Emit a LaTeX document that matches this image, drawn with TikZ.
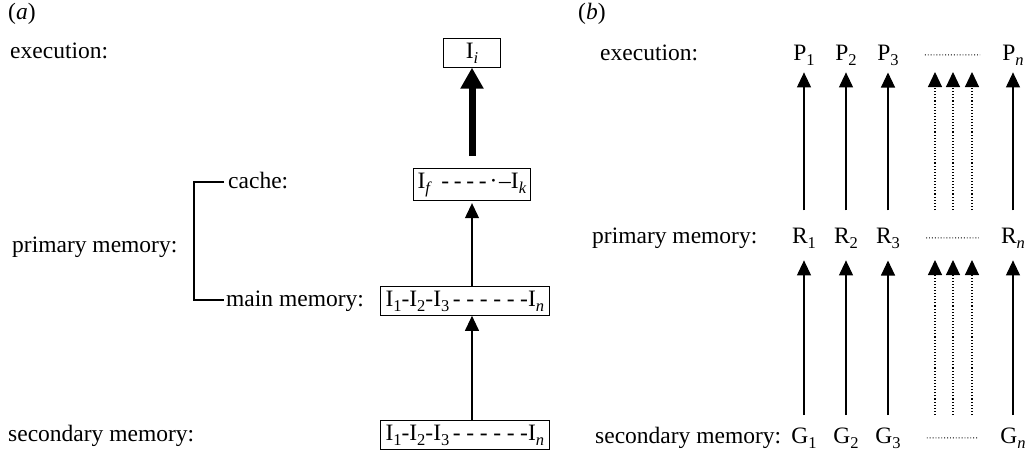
\documentclass[tikz,border=0pt]{standalone}
\usepackage{fontspec}
\setmainfont{Liberation Serif}
\usetikzlibrary{arrows.meta}
\newcommand\sbs[1]{\raisebox{-0.22em}{\fontsize{16.5}{17}\selectfont #1}}
\newcommand\dd{-\hspace{0.24em}}
\newcommand\de{-\hspace{0.2em}}
\begin{document}
\begin{tikzpicture}[x=1pt,y=-1pt,
  every node/.style={font=\fontsize{23.5}{26}\selectfont, inner sep=0pt},
  lab/.style={anchor=base west},
  val/.style={anchor=base},
  bx/.style={draw, line width=1pt, inner xsep=5pt, inner ysep=4pt},
  ln/.style={line width=1.1pt},
  arr/.style={ln, -{Triangle[width=14pt,length=15pt]}},
  darr/.style={line width=1.1pt, dotted, -{Triangle[width=14pt,length=15pt]}},
  thk/.style={line width=7pt, -{Triangle[width=22pt,length=21pt]}},
  dots/.style={line width=0.9pt, dotted}
]
\useasboundingbox (0,0) rectangle (1029,450);

% ---------- (a) ----------
\node[lab] (la) at (8,19) {(\textit{a})};
\node[lab] (exa) at (10,58) {execution:};
\node[bx, val, minimum width=57pt] (Ii) at (472,58) {I\sbs{\textit{i}}};
\node[lab] (cache) at (228,188) {cache:};
\node[bx, val, inner xsep=4pt] (cb) at (472,188) {I\sbs{\textit{f}}\hspace{0.4em}\de\de\de-\hspace{0.12em}·\hspace{0.08em}–I\sbs{\textit{k}}};
\node[lab] (prima) at (12,252) {primary memory:};
\node[lab] (mainm) at (226,306) {main memory:};
\node[bx, lab] (mb) at (380,306) {I\sbs{1}-I\sbs{2}-I\sbs{3}\hspace{0.15em}\dd\dd\dd\dd\dd-I\sbs{\textit{n}}};
\node[lab] (seca) at (8,441) {secondary memory:};
\node[bx, lab] (sb) at (380,440) {I\sbs{1}-I\sbs{2}-I\sbs{3}\hspace{0.15em}\dd\dd\dd\dd\dd-I\sbs{\textit{n}}};

\draw[thk, shorten <=12pt] (cb.north -| Ii) -- (Ii.south);
\draw[arr, shorten >=2pt] (mb.north -| Ii) -- (cb.south -| Ii);
\draw[arr] (sb.north -| Ii) -- (mb.south -| Ii);
\coordinate (ct) at ([xshift=-4pt,yshift=6pt]cache.base west);
\coordinate (bt) at ([xshift=-34pt,yshift=6pt]cache.base west);
\coordinate (mt) at ([xshift=-2pt,yshift=6pt]mainm.base west);
\draw[ln] (ct) -- (bt) -- (bt |- mt) -- (mt);

% ---------- (b) ----------
\node[lab] (lb) at (578,19) {(\textit{b})};
\node[lab] (exb) at (600,60) {execution:};
\node[lab] (primb) at (592,243) {primary memory:};
\node[lab] (secb) at (595,443) {secondary memory:};

\foreach \i/\x in {1/804,2/846,3/888} {
  \node[val] (P\i) at (\x,60) {P\sbs{\i}};
  \node[val] (R\i) at (\x,243) {R\sbs{\i}};
  \node[val] (G\i) at (\x,443) {G\sbs{\i}};
}
\node[val] (Pn) at (1013,60) {P\sbs{\textit{n}}};
\node[val] (Rn) at (1013,243) {R\sbs{\textit{n}}};
\node[val] (Gn) at (1013,443) {G\sbs{\textit{n}}};

\foreach \c in {1,2,3,n} {
  \draw[arr, shorten <=17pt, shorten >=7pt] (R\c.north) -- (P\c.south);
  \draw[arr, shorten <=12pt, shorten >=12pt] (G\c.north) -- (R\c.south);
}

\foreach \r in {P,R,G} {
  \draw[dots, shorten <=26pt, shorten >=22pt] (\r3) -- (\r n);
}

\foreach \k/\x in {1/935,2/953,3/972} {
  \coordinate (pt\k) at (\x,72);
  \coordinate (rb\k) at (\x,210);
  \coordinate (rt\k) at (\x,260);
  \coordinate (gb\k) at (\x,415);
  \draw[darr] (rb\k) -- (pt\k);
  \draw[darr] (gb\k) -- (rt\k);
}
\end{tikzpicture}
\end{document}
